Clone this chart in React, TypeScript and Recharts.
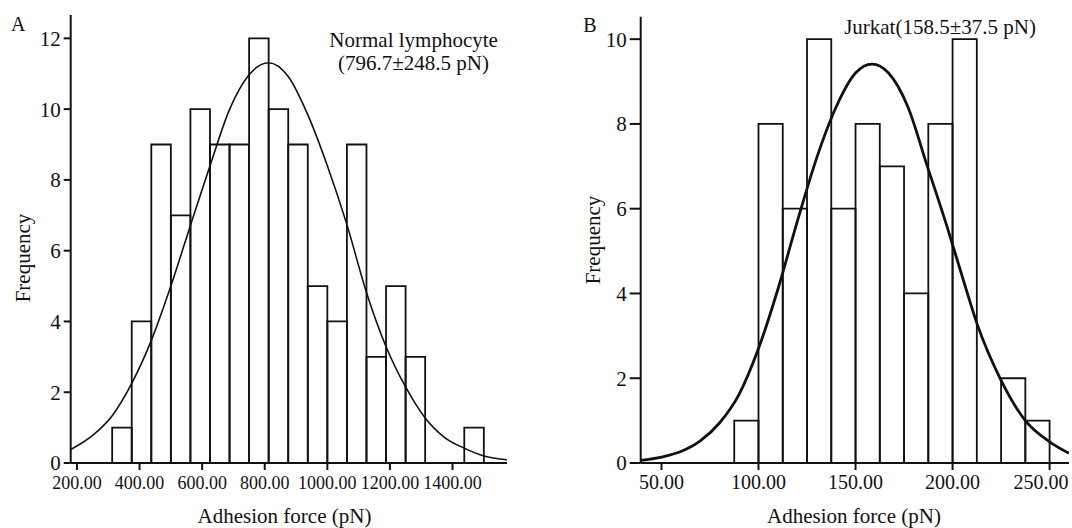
import { ComposedChart, Line, XAxis, YAxis, ReferenceArea } from "recharts";

const INK = "#111";
const FONT = '"Liberation Serif", "Times New Roman", serif';

// Panel A: normal lymphocyte adhesion force histogram
const lymphBinEdges = [
    312.5, 375, 437.5, 500, 562.5, 625, 687.5, 750, 812.5, 875, 937.5, 1000,
    1062.5, 1125, 1187.5, 1250, 1312.5, 1375, 1437.5, 1500,
];
const lymphCounts = [1, 4, 9, 7, 10, 9, 9, 12, 10, 9, 5, 4, 9, 3, 5, 3, 0, 0, 1];
// fitted normal curve
const lymphCurveForce = [
    180, 250, 312, 375, 437, 500, 562, 625, 688, 750, 812, 875, 937, 1000, 1062,
    1125, 1187, 1250, 1312, 1375, 1437, 1500, 1574,
];
const lymphCurveFreq = [
    0.38, 0.78, 1.33, 2.25, 3.45, 5.0, 6.7, 8.4, 10.0, 10.97, 11.31, 10.92, 9.85,
    8.4, 6.75, 4.82, 3.3, 2.15, 1.28, 0.72, 0.42, 0.2, 0.09,
];
const lymphXTicks = [200, 400, 600, 800, 1000, 1200, 1400];
const lymphYTicks = [0, 2, 4, 6, 8, 10, 12];

// Panel B: Jurkat adhesion force histogram
const jurkatBinEdges = [
    87.5, 100, 112.5, 125, 137.5, 150, 162.5, 175, 187.5, 200, 212.5, 225, 237.5, 250,
];
const jurkatCounts = [1, 8, 6, 10, 6, 8, 7, 4, 8, 10, 0, 2, 1];
const jurkatCurveForce = [
    39.3, 50, 60, 70, 80, 90, 100, 110, 120, 130, 140, 150, 158.5, 167, 177, 187,
    197, 205, 212.5, 225, 237.5, 250, 260,
];
const jurkatCurveFreq = [
    0.06, 0.14, 0.27, 0.52, 0.95, 1.62, 2.7, 4.1, 5.7, 7.2, 8.4, 9.2, 9.41, 9.2,
    8.4, 7.0, 5.6, 4.4, 3.3, 1.95, 1.0, 0.5, 0.23,
];
const jurkatXTicks = [50, 100, 150, 200, 250];
const jurkatYTicks = [0, 2, 4, 6, 8, 10];

const Y_AXIS_W = 50;
const X_AXIS_H = 40;

type HistogramProps = {
    edges: number[];
    counts: number[];
    curveX: number[];
    curveY: number[];
    xDomain: [number, number];
    yDomain: [number, number];
    xTicks: number[];
    yTicks: number[];
    width: number;
    // plot box edges, in the chart's own pixels
    plot: { top: number; right: number; bottom: number; left: number };
    xTickFont: number;
    yTickFont: number;
    yTickSize: number;
    curveWidth: number;
};

const Histogram = (p: HistogramProps) => {
    const curve = p.curveX.map((x, i) => ({ force: x, freq: p.curveY[i] }));
    const margin = {
        top: p.plot.top,
        right: p.plot.right,
        bottom: p.plot.bottom - X_AXIS_H,
        left: p.plot.left - Y_AXIS_W,
    };
    // keep the last tick label inside the page edge
    const halfLabel = p.xTickFont * 1.45;
    const XTick = (t: any) => (
        <text
            x={Math.min(t.x, p.width - halfLabel - 2)}
            y={t.y}
            dy="0.71em"
            textAnchor="middle"
            fontSize={p.xTickFont}
            fontFamily={FONT}
            fill={INK}
        >
            {Number(t.payload.value).toFixed(2)}
        </text>
    );
    return (
        <ComposedChart width={p.width} height={528} data={curve} margin={margin}>
            <XAxis
                type="number"
                dataKey="force"
                domain={p.xDomain}
                allowDataOverflow
                ticks={p.xTicks}
                interval={0}
                height={X_AXIS_H}
                tickSize={7}
                tickMargin={p.xTickFont > 19 ? 5 : 6}
                stroke={INK}
                strokeWidth={2}
                tick={XTick}
            />
            <YAxis
                type="number"
                domain={p.yDomain}
                allowDataOverflow
                ticks={p.yTicks}
                interval={0}
                width={Y_AXIS_W}
                tickSize={p.yTickSize}
                tickMargin={3}
                stroke={INK}
                strokeWidth={2}
                tick={{ fontSize: p.yTickFont, fill: INK, fontFamily: FONT }}
            />
            {p.counts.map((c, i) =>
                c > 0 ? (
                    <ReferenceArea
                        key={i}
                        x1={p.edges[i]}
                        x2={p.edges[i + 1]}
                        y1={0}
                        y2={c}
                        fill="none"
                        fillOpacity={0}
                        stroke={INK}
                        strokeWidth={1.8}
                        ifOverflow="visible"
                    />
                ) : null
            )}
            <Line
                type="monotone"
                dataKey="freq"
                stroke={INK}
                strokeWidth={p.curveWidth}
                dot={false}
                activeDot={false}
                isAnimationActive={false}
            />
        </ComposedChart>
    );
};

const Caption = ({
    x,
    y,
    size = 21,
    rotate = false,
    children,
}: {
    x: number;
    y: number;
    size?: number;
    rotate?: boolean;
    children: React.ReactNode;
}) => (
    <div
        style={{
            position: "absolute",
            left: x,
            top: y,
            transform: `translate(-50%, -50%)${rotate ? " rotate(-90deg)" : ""}`,
            fontSize: size,
            lineHeight: 1,
            whiteSpace: "nowrap",
            color: INK,
            fontFamily: FONT,
        }}
    >
        {children}
    </div>
);

export default function App() {
    return (
        <div
            style={{
                position: "absolute",
                left: 0,
                top: 0,
                width: 1072,
                height: 528,
                background: "#fff",
                overflow: "hidden",
                fontFamily: FONT,
            }}
        >
            <div style={{ position: "absolute", left: 0, top: 0 }}>
                <Histogram
                    edges={lymphBinEdges}
                    counts={lymphCounts}
                    curveX={lymphCurveForce}
                    curveY={lymphCurveFreq}
                    xDomain={[180, 1574]}
                    yDomain={[0, 12.66]}
                    xTicks={lymphXTicks}
                    yTicks={lymphYTicks}
                    width={540}
                    plot={{ top: 15, right: 33, bottom: 65, left: 70.7 }}
                    xTickFont={18}
                    yTickFont={21}
                    yTickSize={7}
                    curveWidth={1.6}
                />
            </div>
            <div style={{ position: "absolute", left: 536, top: 0 }}>
                <Histogram
                    edges={jurkatBinEdges}
                    counts={jurkatCounts}
                    curveX={jurkatCurveForce}
                    curveY={jurkatCurveFreq}
                    xDomain={[39.3, 260]}
                    yDomain={[0, 10.53]}
                    xTicks={jurkatXTicks}
                    yTicks={jurkatYTicks}
                    width={536}
                    plot={{ top: 16.7, right: 3, bottom: 65, left: 104.7 }}
                    xTickFont={20}
                    yTickFont={21}
                    yTickSize={11}
                    curveWidth={2.8}
                />
            </div>

            <Caption x={18.3} y={23.5} size={20}>A</Caption>
            <Caption x={413.6} y={40}>Normal lymphocyte</Caption>
            <Caption x={413.5} y={63.3}>(796.7±248.5 pN)</Caption>
            <Caption x={23.3} y={258} rotate>Frequency</Caption>
            <Caption x={284.5} y={516}>Adhesion force (pN)</Caption>

            <Caption x={590} y={25} size={20}>B</Caption>
            <Caption x={940} y={26.7}>Jurkat(158.5±37.5 pN)</Caption>
            <Caption x={592.9} y={240} rotate>Frequency</Caption>
            <Caption x={854} y={516}>Adhesion force (pN)</Caption>
        </div>
    );
}
